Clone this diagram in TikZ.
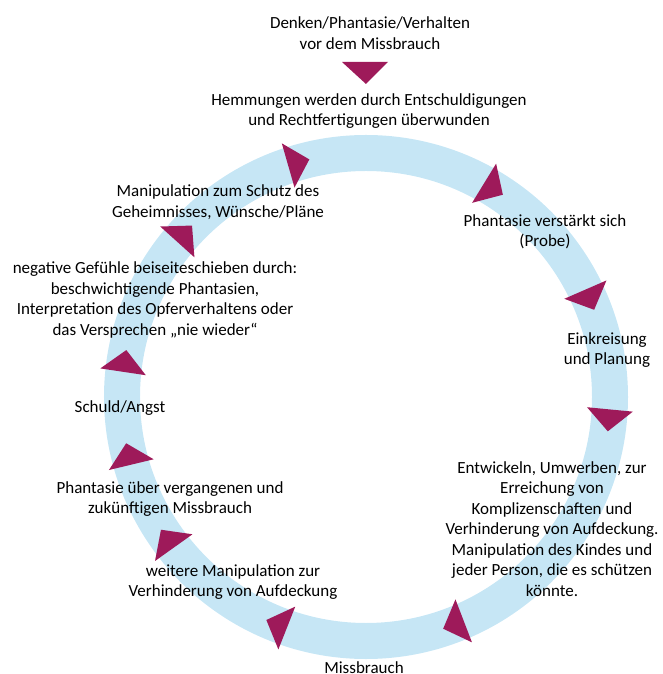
\documentclass[tikz,border=0pt]{standalone}
\usepackage{fontspec}
\setmainfont{Carlito}
\definecolor{ringblue}{HTML}{C6E6F5}
\definecolor{arrowred}{HTML}{9E1A5A}

\begin{document}
\begin{tikzpicture}[x=1pt,y=1pt,every node/.style={font=\fontsize{17}{20.5}\selectfont,align=center},
    tri/.style={fill=arrowred}]
    \useasboundingbox (-366,-277) rectangle (296,397);
    \draw[ringblue,line width=36pt] (0,0) circle (244);
    \foreach \a in {106,58.5,23.5,-5.5,-69,-111.5,-144.5,-166.5,171.5,138}
        \fill[tri,shift={(\a:244)},rotate=\a-90] (-11,23) -- (11,0) -- (-11,-23) -- cycle;
    \fill[tri] (-24,335) -- (22,335) -- (0,313) -- cycle;
    \node (denken) at (4,364) {Denken/Phantasie/Verhalten\\vor dem Missbrauch};
    \node (hemmung) at (3,286) {Hemmungen werden durch Entschuldigungen\\und Rechtfertigungen überwunden};
    \node (probe) at (179,165) {Phantasie verstärkt sich\\(Probe)};
    \node (planung) at (241,47) {Einkreisung\\und Planung};
    \node (umwerben) at (186,-132) {Entwickeln, Umwerben, zur\\Erreichung von\\Komplizenschaften und\\Verhinderung von Aufdeckung.\\Manipulation des Kindes und\\jeder Person, die es schützen\\könnte.};
    \node[anchor=base] (missbrauch) at (-2,-276) {Missbrauch};
    \node (weitere) at (-133,-185) {weitere Manipulation zur\\Verhinderung von Aufdeckung};
    \node (vergangen) at (-196,-102) {Phantasie über vergangenen und\\zukünftigen Missbrauch};
    \node (schuld) at (-246,-11) {Schuld/Angst};
    \node (gefuehle) at (-211,97) {negative Gefühle beiseiteschieben durch:\\beschwichtigende Phantasien,\\Interpretation des Opferverhaltens oder\\das Versprechen „nie wieder“};
    \node (geheimnis) at (-148,195) {Manipulation zum Schutz des\\Geheimnisses, Wünsche/Pläne};
\end{tikzpicture}
\end{document}
